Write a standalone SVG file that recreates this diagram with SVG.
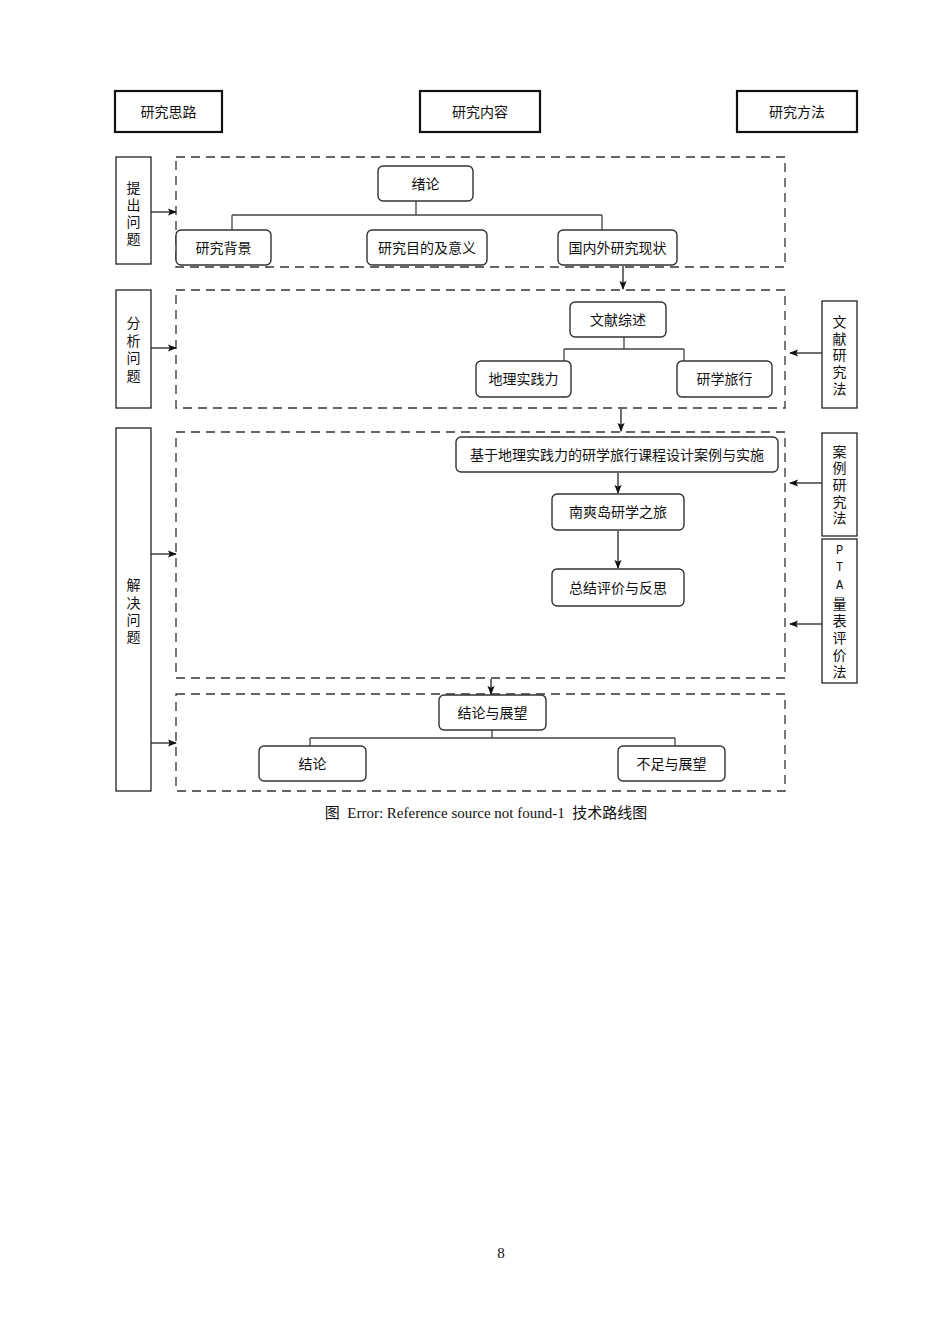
<svg xmlns="http://www.w3.org/2000/svg" width="950" height="1344" viewBox="0 0 950 1344">
<defs>
<style>
text{font-family:"Liberation Sans","Noto Sans CJK SC",sans-serif;font-size:14px;fill:#111;}
.c{text-anchor:middle;dominant-baseline:central;}
.hdr{fill:#fff;stroke:#111;stroke-width:2.2;}
.side{fill:#fff;stroke:#222;stroke-width:1.3;}
.node{fill:#fff;stroke:#333;stroke-width:1.4;}
.dash{fill:none;stroke:#333;stroke-width:1.3;stroke-dasharray:9,6;}
.ln{fill:none;stroke:#444;stroke-width:1.3;}
.ar{fill:none;stroke:#222;stroke-width:1.3;marker-end:url(#ah);}
.mono{font-family:"Liberation Mono","Noto Sans CJK SC",monospace;font-size:12px;}
.cap{font-family:"Liberation Serif","Noto Sans CJK SC",serif;font-size:15px;}
</style>
<marker id="ah" viewBox="0 0 10 10" refX="9" refY="5" markerWidth="9" markerHeight="9" orient="auto" markerUnits="userSpaceOnUse">
<path d="M0,1 L10,5 L0,9 L2,5 Z" fill="#111"/>
</marker>
</defs>
<rect width="950" height="1344" fill="#fff"/>

<g id="regions">
<rect class="dash" x="176" y="157" width="609" height="110"/>
<rect class="dash" x="176" y="290" width="609" height="118"/>
<rect class="dash" x="176" y="432" width="609" height="246"/>
<rect class="dash" x="176" y="694" width="609" height="97"/>
</g>

<g id="h1"><rect class="hdr" x="115" y="91" width="107" height="41"/><text class="c" x="168.5" y="112">研究思路</text></g>
<g id="h2"><rect class="hdr" x="420" y="91" width="120" height="41"/><text class="c" x="480" y="112">研究内容</text></g>
<g id="h3"><rect class="hdr" x="737" y="91" width="120" height="41"/><text class="c" x="797" y="112">研究方法</text></g>

<g id="s1"><rect class="side" x="116" y="157" width="35" height="107"/>
<text class="c" x="133.5" y="188">提</text><text class="c" x="133.5" y="205">出</text><text class="c" x="133.5" y="222">问</text><text class="c" x="133.5" y="239">题</text></g>
<g id="s2"><rect class="side" x="116" y="290" width="35" height="118"/>
<text class="c" x="133.5" y="323">分</text><text class="c" x="133.5" y="341">析</text><text class="c" x="133.5" y="358">问</text><text class="c" x="133.5" y="376">题</text></g>
<g id="s3"><rect class="side" x="116" y="428" width="35" height="363"/>
<text class="c" x="133.5" y="585">解</text><text class="c" x="133.5" y="603">决</text><text class="c" x="133.5" y="620">问</text><text class="c" x="133.5" y="637">题</text></g>

<g id="m1"><rect class="side" x="822" y="301" width="35" height="107"/>
<text class="c" x="839.5" y="322">文</text><text class="c" x="839.5" y="339">献</text><text class="c" x="839.5" y="355">研</text><text class="c" x="839.5" y="372">究</text><text class="c" x="839.5" y="389">法</text></g>
<g id="m2"><rect class="side" x="822" y="433" width="35" height="103"/>
<text class="c" x="839.5" y="452">案</text><text class="c" x="839.5" y="468">例</text><text class="c" x="839.5" y="485">研</text><text class="c" x="839.5" y="502">究</text><text class="c" x="839.5" y="518">法</text></g>
<g id="m3"><rect class="side" x="822" y="539" width="35" height="144"/>
<text class="c mono" x="839.5" y="551">P</text><text class="c mono" x="839.5" y="568">T</text><text class="c mono" x="839.5" y="586">A</text>
<text class="c" x="839.5" y="604">量</text><text class="c" x="839.5" y="621">表</text><text class="c" x="839.5" y="638">评</text><text class="c" x="839.5" y="655">价</text><text class="c" x="839.5" y="672">法</text></g>

<g id="connectors">
<path class="ln" d="M416,201 V215 M232,215 H602 M232,215 V230 M602,215 V230"/>
<path class="ln" d="M624,337 V349 M564,349 H684 M564,349 V361 M684,349 V361"/>
<path class="ln" d="M492,730 V738 M310,738 H675 M310,738 V746 M675,738 V746"/>
<path class="ar" d="M623,266 V289"/>
<path class="ar" d="M621,409 V431"/>
<path class="ar" d="M618,473 V493"/>
<path class="ar" d="M618,531 V568"/>
<path class="ar" d="M491,679 V694"/>
<path class="ar" d="M151,212 H176"/>
<path class="ar" d="M151,348 H176"/>
<path class="ar" d="M151,554 H176"/>
<path class="ar" d="M151,743 H176"/>
<path class="ar" d="M822,353 H790"/>
<path class="ar" d="M822,483 H790"/>
<path class="ar" d="M822,624 H790"/>
</g>

<g id="n1"><rect class="node" x="378" y="166" width="95" height="35" rx="5"/><text class="c" x="425.5" y="183.5">绪论</text></g>
<g id="n2"><rect class="node" x="176" y="230" width="95" height="35" rx="5"/><text class="c" x="223.5" y="247.5">研究背景</text></g>
<g id="n3"><rect class="node" x="367" y="230" width="120" height="35" rx="5"/><text class="c" x="427" y="247.5">研究目的及意义</text></g>
<g id="n4"><rect class="node" x="558" y="230" width="119" height="35" rx="5"/><text class="c" x="617.5" y="247.5">国内外研究现状</text></g>
<g id="n5"><rect class="node" x="570" y="302" width="96" height="35" rx="5"/><text class="c" x="618" y="319.5">文献综述</text></g>
<g id="n6"><rect class="node" x="476" y="361" width="95" height="36" rx="5"/><text class="c" x="523.5" y="379">地理实践力</text></g>
<g id="n7"><rect class="node" x="677" y="361" width="95" height="36" rx="5"/><text class="c" x="724.5" y="379">研学旅行</text></g>
<g id="n8"><rect class="node" x="456" y="437" width="322" height="35" rx="5"/><text class="c" x="617" y="454.5">基于地理实践力的研学旅行课程设计案例与实施</text></g>
<g id="n9"><rect class="node" x="552" y="494" width="132" height="36" rx="5"/><text class="c" x="618" y="512">南爽岛研学之旅</text></g>
<g id="n10"><rect class="node" x="552" y="569" width="132" height="37" rx="5"/><text class="c" x="618" y="587.5">总结评价与反思</text></g>
<g id="n11"><rect class="node" x="439" y="695" width="107" height="35" rx="5"/><text class="c" x="492.5" y="712.5">结论与展望</text></g>
<g id="n12"><rect class="node" x="259" y="746" width="107" height="35" rx="5"/><text class="c" x="312.5" y="763.5">结论</text></g>
<g id="n13"><rect class="node" x="618" y="746" width="107" height="35" rx="5"/><text class="c" x="671.5" y="763.5">不足与展望</text></g>

<text class="cap" x="486" y="818" text-anchor="middle" xml:space="preserve">图  Error: Reference source not found-1  技术路线图</text>
<text class="cap" x="501" y="1258" text-anchor="middle">8</text>
</svg>
